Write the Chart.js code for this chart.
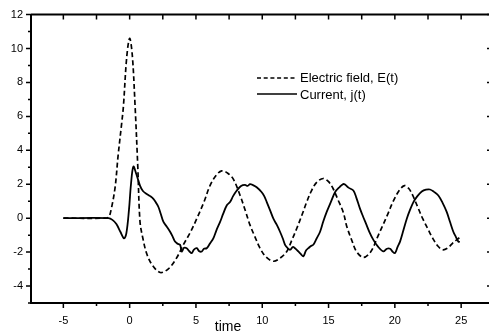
<!DOCTYPE html>
<html>
<head>
<meta charset="utf-8">
<script src="https://cdn.jsdelivr.net/npm/chart.js@4.4.1/dist/chart.umd.min.js"></script>
<style>
  html, body { margin: 0; padding: 0; background: #fff; overflow: hidden; }
  #wrap { width: 489px; height: 336px; }
</style>
</head>
<body>
<div id="wrap"><canvas id="chart" width="489" height="336"></canvas></div>
<script>
// values
const fieldTime = [-5, -2, -1.6, -1.4, -1.1, -0.87, -0.6, -0.47, -0.22, 0, 0.2, 0.41, 0.61, 0.78, 1.0, 1.29, 1.7, 2.3, 2.9, 3.5,
    4.05, 4.6, 5.06, 5.6, 6.06, 6.5, 6.94, 7.4, 7.82, 8.33, 8.7, 9.08, 9.45, 9.83, 10.3, 10.84, 11.35, 11.85, 12.2, 12.6,
    13.0, 13.35, 13.7, 14.1, 14.6, 15.0, 15.36, 15.7, 16.1, 16.38, 16.75, 17.1, 17.6, 18.0, 18.34, 18.7, 19.1, 19.5, 19.85, 20.3,
    20.72, 21.05, 21.35, 21.7, 22.1, 22.5, 22.86, 23.2, 23.6, 24.0, 24.35, 24.7, 24.97];
const fieldValues = [0, 0, 0.05, 0.5, 1.8, 3.7, 5.6, 6.6, 9.5, 10.6, 9.6, 6.6, 3.1, -0.2, -1.2, -2.1, -2.75, -3.2, -3.0, -2.4,
    -1.57, -0.8, -0.03, 0.95, 1.92, 2.5, 2.79, 2.65, 2.3, 1.34, 0.5, -0.41, -1.1, -1.77, -2.3, -2.54, -2.35, -1.96, -1.35, -0.61,
    0.2, 0.95, 1.6, 2.11, 2.34, 2.15, 1.72, 1.1, 0.37, -0.5, -1.3, -1.96, -2.31, -2.15, -1.77, -1.1, -0.41, 0.3, 0.95, 1.6,
    1.92, 1.75, 1.34, 0.7, -0.03, -0.65, -1.19, -1.6, -1.86, -1.75, -1.48, -1.25, -1.09];

const currentTime = [-5, -1.6, -1.3, -1.0, -0.7, -0.42, -0.25, -0.05, 0.1, 0.28, 0.5, 0.78, 1.0, 1.29, 1.55, 1.79, 2.0, 2.17, 2.35, 2.54,
    2.8, 3.05, 3.25, 3.42, 3.6, 3.8, 3.93, 4.1, 4.3, 4.5, 4.68, 4.85, 5.06, 5.25, 5.44, 5.6, 5.81, 6.05, 6.31, 6.55,
    6.82, 7.05, 7.32, 7.57, 7.8, 8.08, 8.4, 8.7, 8.9, 9.08, 9.3, 9.58, 9.96, 10.15, 10.34, 10.6, 10.84, 11.1, 11.34, 11.55,
    11.72, 11.9, 12.1, 12.3, 12.47, 12.72, 12.9, 13.1, 13.3, 13.48, 13.65, 13.85, 14.1, 14.36, 14.6, 14.86, 15.2, 15.49, 15.85, 16.1,
    16.24, 16.5, 16.87, 17.1, 17.37, 17.6, 17.87, 18.1, 18.38, 18.7, 19.13, 19.4, 19.64, 19.8, 20.01, 20.2, 20.39, 20.65, 20.9, 21.15,
    21.4, 21.7, 22.03, 22.35, 22.65, 22.95, 23.28, 23.6, 23.91, 24.15, 24.41, 24.6, 24.79, 24.9];
const currentValues = [0, 0, -0.1, -0.35, -0.8, -1.19, -0.9, 0.5, 2.0, 3.04, 2.6, 1.92, 1.6, 1.43, 1.3, 1.14, 0.9, 0.66, 0.25, -0.21,
    -0.5, -0.8, -1.1, -1.38, -1.5, -1.57, -1.96, -1.75, -1.77, -1.95, -2.06, -1.85, -1.77, -1.95, -1.96, -1.8, -1.77, -1.5, -1.19, -0.7,
    -0.22, 0.25, 0.75, 0.95, 1.3, 1.63, 1.9, 1.96, 1.9, 2.01, 1.95, 1.82, 1.53, 1.3, 0.95, 0.45, -0.03, -0.4, -0.8, -1.2,
    -1.57, -1.75, -1.86, -1.7, -1.77, -1.96, -2.1, -2.25, -1.9, -1.77, -1.65, -1.57, -1.2, -0.8, -0.2, 0.37, 1.0, 1.53, 1.85, 2.01,
    1.98, 1.8, 1.63, 1.2, 0.56, 0.1, -0.41, -0.85, -1.28, -1.65, -1.96, -1.8, -1.8, -1.95, -2.06, -1.7, -1.38, -0.7, -0.03, 0.5,
    0.95, 1.3, 1.57, 1.68, 1.69, 1.55, 1.34, 0.9, 0.37, -0.2, -0.8, -1.1, -1.38, -1.4];

const xTickLabels = [-5, 0, 5, 10, 15, 20, 25];
const yTickLabels = [-4, -2, 0, 2, 4, 6, 8, 10, 12];
const legendLabels = ['Electric field, E(t)', 'Current, j(t)'];

const FONT = '"Liberation Sans", Arial, Helvetica, sans-serif';

function toPoints(xs, ys) {
    return xs.map((x, i) => ({ x: x, y: ys[i] }));
}

// top frame line, tick marks, legend and axis title
const decorations = {
    id: 'decorations',
    afterDraw(chart) {
        const { ctx, chartArea: a, scales: { x, y } } = chart;
        ctx.save();
        ctx.strokeStyle = '#000';
        ctx.lineWidth = 2;
        ctx.beginPath();
        ctx.moveTo(a.left, a.top);
        ctx.lineTo(a.right, a.top);
        ctx.stroke();

        ctx.lineWidth = 1.5;
        ctx.beginPath();
        for (let v = -5; v <= 25; v += 2.5) {
            const px = x.getPixelForValue(v);
            const major = v % 5 === 0;
            ctx.moveTo(px, a.top);
            ctx.lineTo(px, a.top + 5);
            ctx.moveTo(px, a.bottom);
            ctx.lineTo(px, a.bottom + (major ? 5 : 3));
        }
        for (let v = -5; v <= 12; v += 1) {
            const py = y.getPixelForValue(v);
            const major = v % 2 === 0;
            ctx.moveTo(a.left, py);
            ctx.lineTo(a.left - (major ? 5 : 3), py);
            if (major) {
                ctx.moveTo(a.right, py);
                ctx.lineTo(a.right - 2, py);
            }
        }
        ctx.stroke();

        // legend
        ctx.lineWidth = 1.6;
        ctx.setLineDash([4, 2.7]);
        ctx.beginPath();
        ctx.moveTo(257, 78);
        ctx.lineTo(297, 78);
        ctx.stroke();
        ctx.setLineDash([]);
        ctx.beginPath();
        ctx.moveTo(257, 94);
        ctx.lineTo(297, 94);
        ctx.stroke();

        ctx.fillStyle = '#000';
        ctx.font = '13px ' + FONT;
        ctx.textAlign = 'left';
        ctx.textBaseline = 'middle';
        ctx.fillText(legendLabels[0], 300, 78);
        ctx.fillText(legendLabels[1], 300, 95);

        ctx.textAlign = 'center';
        ctx.font = '14px ' + FONT;
        ctx.fillText('time', 228, 327);
        ctx.restore();
    }
};

new Chart(document.getElementById('chart'), {
    type: 'line',
    data: {
        datasets: [{
            label: legendLabels[0],
            data: toPoints(fieldTime, fieldValues),
            borderColor: '#000',
            borderWidth: 1.7,
            borderDash: [5, 3],
            pointRadius: 0,
            tension: 0.35,
            fill: false
        }, {
            label: legendLabels[1],
            data: toPoints(currentTime, currentValues),
            borderColor: '#000',
            borderWidth: 1.8,
            pointRadius: 0,
            tension: 0.35,
            fill: false
        }]
    },
    options: {
        responsive: false,
        animation: false,
        layout: { padding: { top: 10, left: 0, right: 0, bottom: 0 } },
        plugins: {
            legend: { display: false },
            tooltip: { enabled: false }
        },
        scales: {
            x: {
                type: 'linear',
                min: -7.44,
                max: 27.1,
                afterBuildTicks: s => { s.ticks = xTickLabels.map(v => ({ value: v })); },
                afterFit: s => { s.height = 33; },
                grid: { display: false, drawTicks: false },
                border: { display: true, color: '#000', width: 2 },
                ticks: { color: '#000', padding: 11, font: { size: 11, family: FONT }, maxRotation: 0 }
            },
            y: {
                type: 'linear',
                min: -5,
                max: 12,
                afterBuildTicks: s => { s.ticks = yTickLabels.map(v => ({ value: v })); },
                afterFit: s => { s.width = 31; },
                grid: { display: false, drawTicks: false },
                border: { display: true, color: '#000', width: 2 },
                ticks: { color: '#000', padding: 8, font: { size: 11, family: FONT } }
            }
        }
    },
    plugins: [decorations]
});
</script>
</body>
</html>
